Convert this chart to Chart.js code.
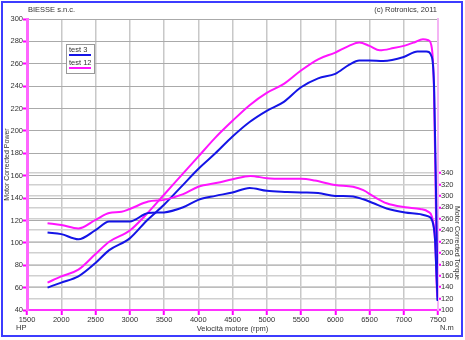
<!DOCTYPE html>
<html>
<head>
<meta charset="utf-8">
<script src="https://cdn.jsdelivr.net/npm/chart.js@4"></script>
<style>
  html, body { margin: 0; padding: 0; background: #fff; }
  canvas { display: block; }
</style>
</head>
<body>
<canvas id="dyno" width="465" height="340"></canvas>
<script>
const seriesLabels = ["test 3", "test 12"];
const seriesColors = ["#1414e6", "#ff14ff"];

// power, HP (left axis)
const rpmPower3 = [1800, 2000, 2250, 2500, 2700, 3000, 3250, 3500, 3750, 4000, 4250, 4500, 4750, 5000, 5250, 5500, 5750, 6000, 6200, 6350, 6500, 6700, 7000, 7200, 7330, 7410, 7445, 7470, 7495];
const power3 = [60, 64.5, 70, 82, 93.5, 104, 120, 134, 150, 166, 180, 195, 208, 218, 226, 239, 247, 251, 259, 263, 263, 262.5, 266, 271, 271, 266, 235, 150, 48];
const rpmPower12 = [1800, 2000, 2250, 2500, 2700, 3000, 3250, 3500, 3750, 4000, 4250, 4500, 4750, 5000, 5250, 5500, 5750, 6000, 6200, 6350, 6500, 6650, 6850, 7000, 7150, 7280, 7360, 7410, 7440, 7465, 7485];
const power12 = [64.5, 70, 76, 90, 101, 111, 126, 143, 160, 177, 194, 209, 223, 234, 242, 254, 264, 270, 276, 279, 276, 272, 274, 276, 279, 282, 281, 274, 240, 150, 58];

// torque, N.m (right axis)
const rpmTorque3 = [1800, 2000, 2250, 2500, 2700, 3000, 3270, 3500, 3780, 4000, 4250, 4500, 4750, 5000, 5300, 5500, 5750, 6000, 6260, 6410, 6560, 6750, 7020, 7240, 7360, 7410, 7457, 7475, 7495];
const torque3 = [236, 233, 224, 240, 255, 255, 270, 271, 280, 293, 300, 306, 314, 309, 307, 306, 305, 300, 299, 294, 287, 278, 271, 268, 264, 258, 223, 170, 117];
const rpmTorque12 = [1800, 2000, 2250, 2500, 2700, 2880, 3000, 3270, 3500, 3780, 4000, 4280, 4500, 4760, 5000, 5250, 5500, 5700, 6000, 6260, 6410, 6560, 6750, 7020, 7240, 7360, 7410, 7457, 7472, 7487];
const torque12 = [252, 249, 243, 258, 270, 272, 277, 290, 293, 303, 316, 323, 329, 335, 331, 330, 330, 327, 319, 316, 310, 299, 287, 280, 277, 272, 264, 223, 180, 123];

const FONT = "'Liberation Sans', Arial, sans-serif";
Chart.defaults.font.family = FONT;
Chart.defaults.font.size = 7.5;
Chart.defaults.color = "#333";

function pairs(xs, ys) {
  return xs.map((x, i) => ({ x: x, y: ys[i] }));
}

function line(label, color, xs, ys, axis) {
  return {
    label: label,
    data: pairs(xs, ys),
    yAxisID: axis,
    borderColor: color,
    borderWidth: 2,
    pointRadius: 0,
    fill: false,
    cubicInterpolationMode: "monotone",
  };
}

const decorations = {
  id: "decorations",
  afterDraw(chart) {
    const ctx = chart.ctx;
    ctx.save();
    ctx.font = "7.5px " + FONT;
    ctx.fillStyle = "#333";
    ctx.textBaseline = "middle";
    ctx.textAlign = "left";
    ctx.fillText("BIESSE s.n.c.", 28, 10);
    ctx.fillText("HP", 16, 328);
    ctx.fillText("N.m", 440, 328);
    ctx.textAlign = "right";
    ctx.fillText("(c) Rotronics, 2011", 437, 10);

    ctx.save();
    ctx.translate(456.5, 243);
    ctx.rotate(Math.PI / 2);
    ctx.textAlign = "center";
    ctx.font = "7px " + FONT;
    ctx.fillText("Motor Corrected Torque", 0, 0);
    ctx.restore();

    // legend box
    ctx.fillStyle = "#fff";
    ctx.fillRect(66.5, 44.5, 28, 29);
    ctx.strokeStyle = "#999";
    ctx.lineWidth = 1;
    ctx.strokeRect(66.5, 44.5, 28, 29);
    ctx.textAlign = "left";
    seriesLabels.forEach((lab, i) => {
      const y = 50 + i * 13;
      ctx.fillStyle = "#333";
      ctx.fillText(lab, 69, y);
      ctx.strokeStyle = seriesColors[i];
      ctx.lineWidth = 2;
      ctx.beginPath();
      ctx.moveTo(69, y + 5);
      ctx.lineTo(91, y + 5);
      ctx.stroke();
    });

    // outer frame
    ctx.strokeStyle = "#3c3cff";
    ctx.lineWidth = 2;
    ctx.strokeRect(2, 2, 460, 334);
    ctx.restore();
  },
};

new Chart(document.getElementById("dyno").getContext("2d"), {
  type: "line",
  data: {
    datasets: [
      line(seriesLabels[0], seriesColors[0], rpmTorque3, torque3, "yT"),
      line(seriesLabels[1], seriesColors[1], rpmTorque12, torque12, "yT"),
      line(seriesLabels[0], seriesColors[0], rpmPower3, power3, "y"),
      line(seriesLabels[1], seriesColors[1], rpmPower12, power12, "y"),
    ],
  },
  options: {
    responsive: false,
    animation: false,
    layout: {
      padding: { top: 19, left: 0, right: 0, bottom: 0 },
    },
    plugins: {
      legend: { display: false },
      tooltip: { enabled: false },
    },
    scales: {
      x: {
        type: "linear",
        min: 1500,
        max: 7500,
        afterFit: (s) => { s.height = 30; },
        ticks: {
          stepSize: 500,
          autoSkip: false,
          maxRotation: 0,
          padding: 0,
          callback: (v) => String(v),
        },
        grid: { color: "#c8c8c8", lineWidth: 1.5, tickColor: "#ff00ff", tickLength: 5, tickWidth: 2 },
        border: { color: "#ff33ff", width: 2 },
        title: {
          display: true,
          text: "Velocità motore (rpm)",
          font: { size: 7.5 },
          padding: { top: 0, bottom: 7 },
        },
      },
      y: {
        position: "left",
        min: 40,
        max: 300,
        afterFit: (s) => { s.width = 27; },
        ticks: { stepSize: 20, autoSkip: false, padding: 0 },
        grid: { color: "#aaaaaa", lineWidth: 1, tickColor: "#ff00ff", tickLength: 4, tickWidth: 2 },
        border: { color: "#ff66ff", width: 3 },
        title: {
          display: true,
          text: "Motor Corrected Power",
          font: { size: 7 },
          padding: { top: 3, bottom: 0 },
        },
      },
      yT: {
        position: "right",
        min: 100,
        max: 610,
        afterFit: (s) => { s.width = 27; },
        ticks: {
          stepSize: 20,
          autoSkip: false,
          padding: 0,
          callback: (v) => (v <= 340 ? v : ""),
        },
        grid: {
          drawOnChartArea: true,
          color: (c) => (c.tick && c.tick.value <= 340 ? "#d0d0d0" : "rgba(0,0,0,0)"),
          lineWidth: 1.5,
          tickColor: (c) => (c.tick && c.tick.value <= 340 ? "#ff00ff" : "rgba(0,0,0,0)"),
          tickLength: 3,
          tickWidth: 2,
        },
        border: { color: "#f4b4f4", width: 2 },
      },
    },
  },
  plugins: [decorations],
});
</script>
</body>
</html>
